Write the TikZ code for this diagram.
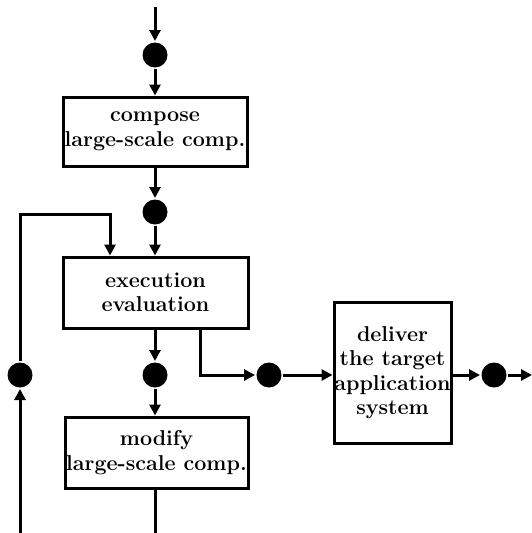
\documentclass[tikz,border=0pt]{standalone}
\usetikzlibrary{arrows.meta}
\begin{document}
\begin{tikzpicture}[x=1pt,y=-1pt,
  line width=3pt,
  dot/.style={circle,fill=black,draw=none,minimum size=25pt,inner sep=0pt},
  box/.style={draw,rectangle,inner sep=0pt,align=center,font=\fontsize{21.5}{24.5}\selectfont\bfseries},
  arr/.style={-{Triangle[length=11pt,width=11pt]}},
  ]
\useasboundingbox (0,0) rectangle (532,533);
% nodes
\node[dot] (c1) at (155,55) {};
\node[box,minimum width=184pt,minimum height=69pt] (b1) at (155,131.5) {compose\\large-scale comp.};
\node[dot] (c2) at (155,212) {};
\node[box,minimum width=185pt,minimum height=71pt] (b2) at (155.5,292.5) {execution\\evaluation};
\node[dot] (c3) at (155,375) {};
\node[box,minimum width=183pt,minimum height=71pt] (b3) at (156.5,452.5) {modify\\large-scale comp.};
\node[dot] (c4) at (20,375) {};
\node[dot] (c5) at (269,375) {};
\node[box,minimum width=117pt,minimum height=141pt] (b4) at (392.5,372.5) {deliver\\the target\\application\\system};
\node[dot] (c6) at (494,375) {};
% free ends
\coordinate (top) at (155,7);
\coordinate (bl) at (20,533);
\coordinate (bm) at (155,533);
\coordinate (re) at (532,375);
\coordinate (k1) at (20,214);
\coordinate (k2) at (110,214);
\coordinate (k3) at (200,375);
% connectors
\draw[arr] (top) -- (c1);
\draw[arr] (c1) -- (c1 |- b1.north);
\draw[arr] (c2 |- b1.south) -- (c2);
\draw[arr] (c2) -- (c2 |- b2.north);
\draw[arr] (c3 |- b2.south) -- (c3);
\draw[arr] (c3) -- (c3 |- b3.north);
\draw (bm |- b3.south) -- (bm);
\draw[arr] (bl) -- (c4);
\draw[arr] (c4) -- (k1) -- (k2) -- (k2 |- b2.north);
\draw[arr] (k3 |- b2.south) -- (k3) -- (c5);
\draw[arr] (c5) -- (b4.west |- c5);
\draw[arr] (b4.east |- c6) -- (c6);
\draw[arr] (c6) -- (re);
\end{tikzpicture}
\end{document}
